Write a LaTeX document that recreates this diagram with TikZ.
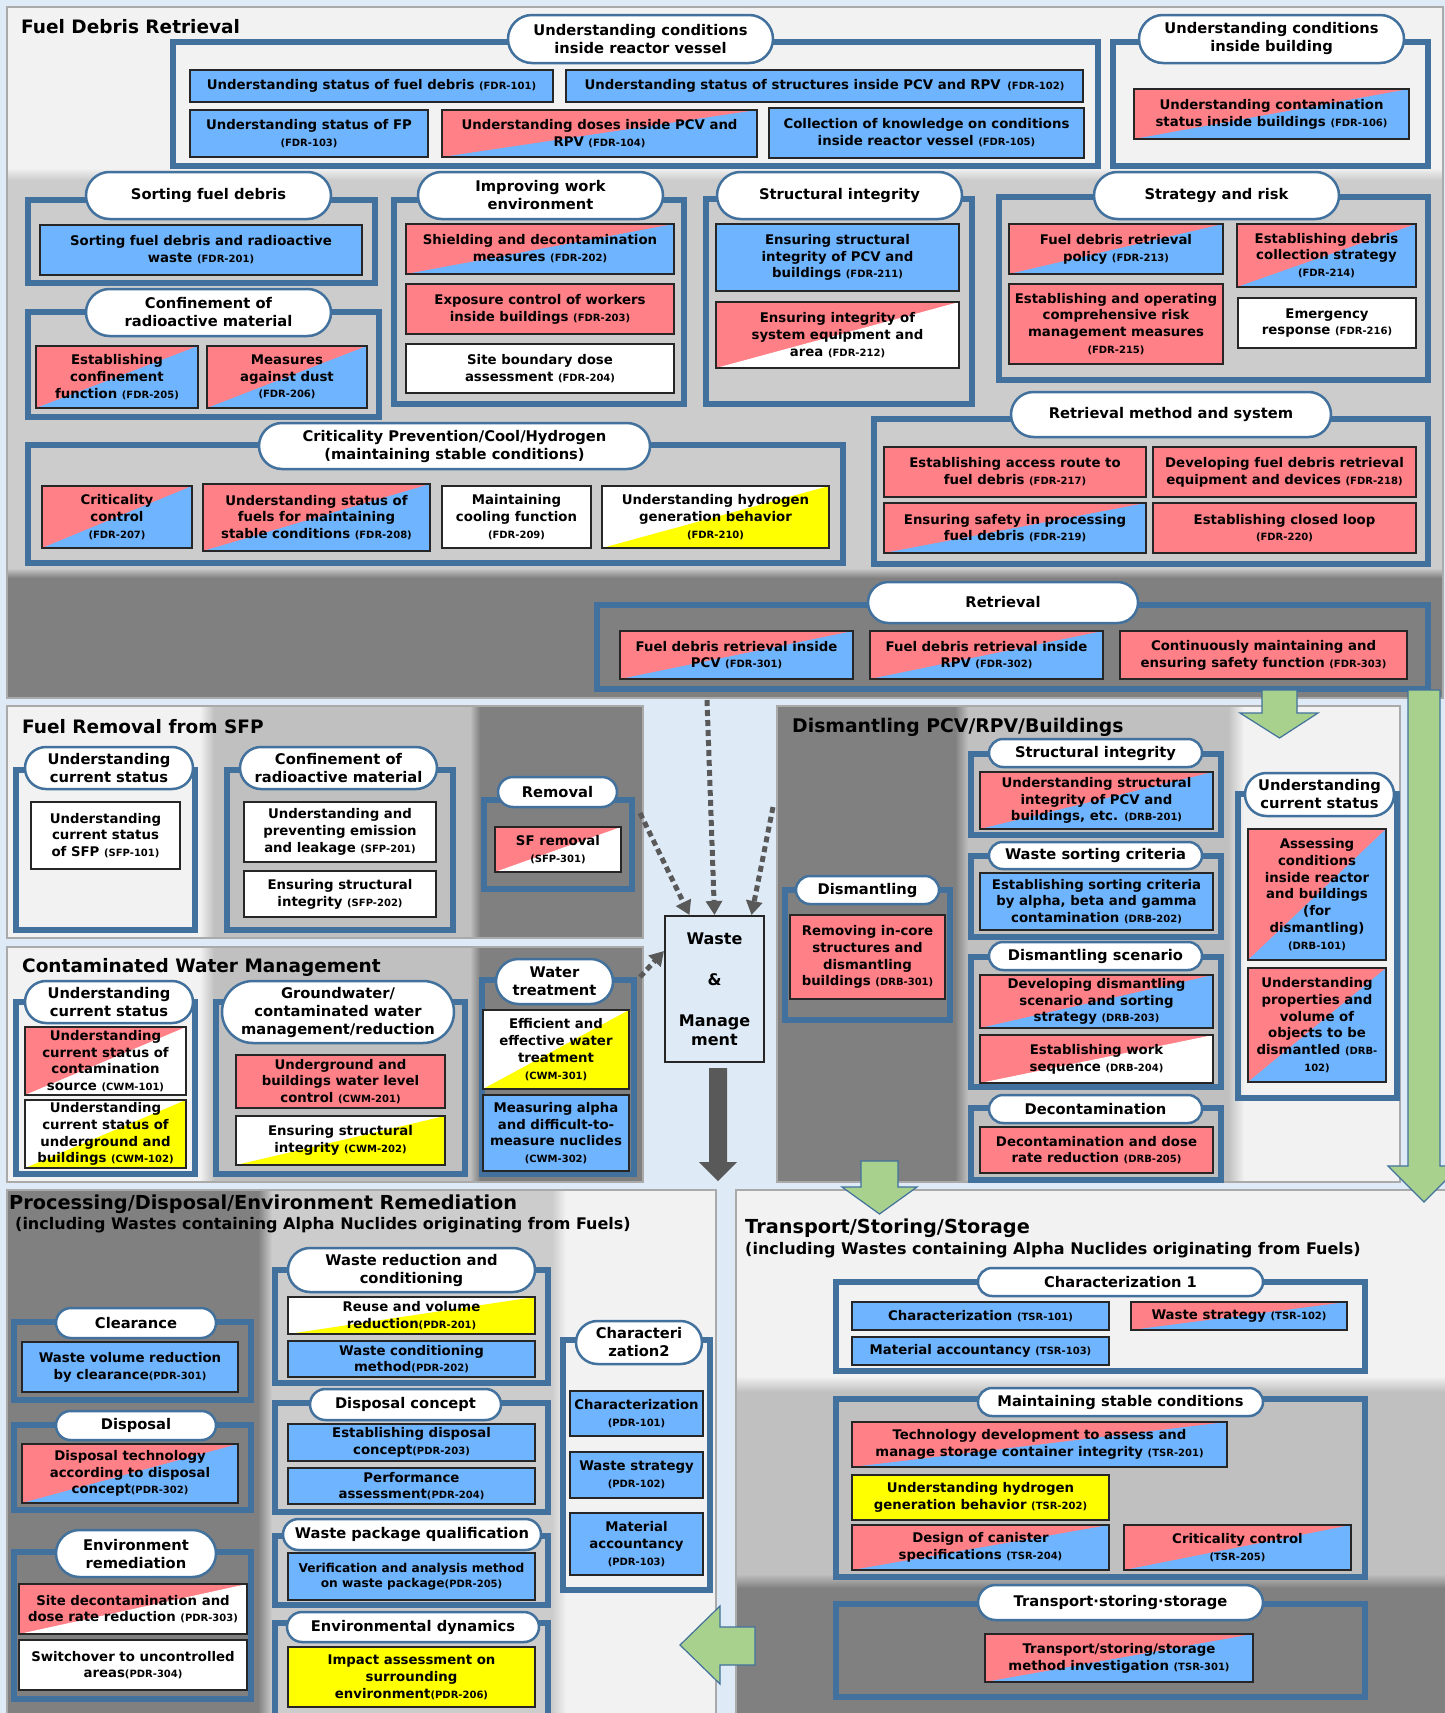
\documentclass[tikz,border=0pt]{standalone}
\usepackage{fontspec}
\setmainfont{DejaVu Sans}
\usetikzlibrary{arrows.meta,calc}
\definecolor{bgblue}{RGB}{222,235,247}
\definecolor{grpblue}{RGB}{65,113,156}
\definecolor{pinkc}{RGB}{255,128,134}
\definecolor{bluec}{RGB}{111,180,255}
\definecolor{yel}{RGB}{255,255,0}
\definecolor{lband}{RGB}{242,242,242}
\definecolor{mband}{RGB}{204,204,204}
\definecolor{mbandb}{RGB}{192,192,192}
\definecolor{dband}{RGB}{128,128,128}
\definecolor{pborder}{RGB}{170,170,170}
\definecolor{greenar}{RGB}{169,209,142}
\definecolor{darkar}{RGB}{89,89,89}
\newcommand\codeT[1]{{\fontsize{10}{11}\selectfont(#1)}}
\newcommand\codeR[1]{{\fontsize{10}{11}\selectfont#1}}
\tikzset{
 bxx/.style={draw=black!85,line width=1.1pt,inner sep=0pt,align=center,font=\fontsize{13.3}{16.8}\selectfont\bfseries},
 bl/.style={fill=bluec}, pk/.style={fill=pinkc}, wh/.style={fill=white}, ye/.style={fill=yel},
 pb/.style={fill=pinkc,path picture={\fill[bluec] (path picture bounding box.south west) -- (path picture bounding box.north east) -- (path picture bounding box.south east) -- cycle;}},
 pw/.style={fill=pinkc,path picture={\fill[white] (path picture bounding box.south west) -- (path picture bounding box.north east) -- (path picture bounding box.south east) -- cycle;}},
 wy/.style={fill=white,path picture={\fill[yel] (path picture bounding box.south west) -- (path picture bounding box.north east) -- (path picture bounding box.south east) -- cycle;}},
 pill/.style={draw=grpblue,line width=2.5pt,fill=white,inner sep=0pt,align=center,font=\fontsize{14.7}{18}\selectfont\bfseries},
 grp/.style={draw=grpblue,line width=5.5pt,inner sep=0pt},
 ttl/.style={inner sep=0pt,font=\fontsize{18.5}{22}\selectfont\bfseries},
 ttlb/.style={inner sep=0pt,font=\fontsize{19.3}{22}\selectfont\bfseries},
 sttl/.style={inner sep=0pt,font=\fontsize{16}{18}\selectfont\bfseries},
 panelb/.style={draw=pborder,line width=1.5pt},
 dotar/.style={draw=darkar,line width=5pt,dash pattern=on 6pt off 4pt,-{Triangle[length=14pt,width=16pt]}},
 grar/.style={fill=greenar,draw=grpblue,line width=1.2pt}
}
\newcommand\BoxN[7]{%
 \pgfmathsetmacro\qqcx{(#3+#5)/2}\pgfmathsetmacro\qqcy{(#4+#6)/2}%
 \pgfmathsetmacro\qqw{#5-#3}\pgfmathsetmacro\qqh{#6-#4}%
 \node[bxx,#2,minimum width=\qqw pt,minimum height=\qqh pt] (#1) at (\qqcx,\qqcy) {#7};}
\newcommand\PillN[6]{%
 \pgfmathsetmacro\qqcx{(#2+#4)/2}\pgfmathsetmacro\qqcy{(#3+#5)/2}%
 \pgfmathsetmacro\qqw{#4-#2}\pgfmathsetmacro\qqh{#5-#3}\pgfmathsetmacro\qqr{(#5-#3)/2}%
 \node[pill,minimum width=\qqw pt,minimum height=\qqh pt,rounded corners=\qqr pt] (#1) at (\qqcx,\qqcy) {#6};}
\newcommand\GrpN[5]{%
 \pgfmathsetmacro\qqcx{(#2+#4)/2}\pgfmathsetmacro\qqcy{(#3+#5)/2}%
 \pgfmathsetmacro\qqw{#4-#2}\pgfmathsetmacro\qqh{#5-#3}%
 \node[grp,minimum width=\qqw pt,minimum height=\qqh pt] (#1) at (\qqcx,\qqcy) {};}
\begin{document}
\begin{tikzpicture}[x=1pt,y=-1pt]
\useasboundingbox (0,0) rectangle (1445,1713);
\fill[bgblue] (0,0) rectangle (1445,1713);
% ---------- panels ----------
% FDR
\fill[lband] (7,7) rectangle (1443,168);
\shade[top color=lband,bottom color=mband] (7,168) rectangle (1443,180);
\fill[mband] (7,180) rectangle (1443,568);
\shade[top color=mband,bottom color=dband] (7,568) rectangle (1443,578);
\fill[dband] (7,578) rectangle (1443,698);
\draw[panelb] (7,7) rectangle (1443,698);
% SFP
\fill[lband] (7,706) rectangle (200,938);
\shade[left color=lband,right color=mbandb] (200,706) rectangle (214,938);
\fill[mbandb] (214,706) rectangle (470,938);
\shade[left color=mbandb,right color=dband] (470,706) rectangle (480,938);
\fill[dband] (480,706) rectangle (643,938);
\draw[panelb] (7,706) rectangle (643,938);
% CWM
\fill[lband] (7,947) rectangle (200,1182);
\shade[left color=lband,right color=mbandb] (200,947) rectangle (214,1182);
\fill[mbandb] (214,947) rectangle (470,1182);
\shade[left color=mbandb,right color=dband] (470,947) rectangle (480,1182);
\fill[dband] (480,947) rectangle (643,1182);
\draw[panelb] (7,947) rectangle (643,1182);
% DRB
\fill[dband] (777,706) rectangle (955,1182);
\shade[left color=dband,right color=mbandb] (955,706) rectangle (968,1182);
\fill[mbandb] (968,706) rectangle (1228,1182);
\shade[left color=mbandb,right color=lband] (1228,706) rectangle (1244,1182);
\fill[lband] (1244,706) rectangle (1400,1182);
\draw[panelb] (777,706) rectangle (1400,1182);
% PDR
\fill[dband] (7,1190) rectangle (258,1725);
\shade[left color=dband,right color=mband] (258,1190) rectangle (272,1725);
\fill[mband] (272,1190) rectangle (552,1725);
\shade[left color=mband,right color=lband] (552,1190) rectangle (566,1725);
\fill[lband] (566,1190) rectangle (716,1725);
\draw[panelb] (7,1190) rectangle (716,1725);
% TSR
\fill[lband] (736,1190) rectangle (1455,1376);
\shade[top color=lband,bottom color=mbandb] (736,1376) rectangle (1455,1392);
\fill[mbandb] (736,1392) rectangle (1455,1574);
\shade[top color=mbandb,bottom color=dband] (736,1574) rectangle (1455,1588);
\fill[dband] (736,1588) rectangle (1455,1725);
\draw[panelb] (736,1190) rectangle (1455,1725);
% ---------- titles ----------
\node[ttl,anchor=west] (tfdr) at (21,27) {Fuel Debris Retrieval};
\node[ttl,anchor=west] (tsfp) at (22,727) {Fuel Removal from SFP};
\node[ttl,anchor=west] (tcwm) at (22,967) {Contaminated Water Management};
\node[ttl,anchor=west,font=\fontsize{18.8}{22}\selectfont\bfseries] (tdrb) at (792,727) {Dismantling PCV/RPV/Buildings};
\node[ttlb,anchor=west] (tpdr) at (9,1204) {Processing/Disposal/Environment Remediation};
\node[sttl,anchor=west] (tpdrs) at (15,1225) {(including Wastes containing Alpha Nuclides originating from Fuels)};
\node[ttlb,anchor=west] (ttsr) at (745,1228) {Transport/Storing/Storage};
\node[sttl,anchor=west] (ttsrs) at (745,1250) {(including Wastes containing Alpha Nuclides originating from Fuels)};
% ---------- FDR top ----------
\GrpN{g11}{173}{42}{1098}{166}
\GrpN{g12}{1113}{42}{1428}{166}
\PillN{p11}{508}{15}{773}{63}{Understanding conditions\\inside reactor vessel}
\PillN{p12}{1139}{15}{1404}{63}{Understanding conditions\\inside building}
\BoxN{fdr101}{bl}{190}{70}{553}{102}{Understanding status of fuel debris \codeT{FDR-101}}
\BoxN{fdr102}{bl}{566}{70}{1083}{102}{Understanding status of structures inside PCV and RPV\enspace\codeT{FDR-102}}
\BoxN{fdr103}{bl}{190}{110}{428}{157}{Understanding status of FP\\\codeT{FDR-103}}
\BoxN{fdr104}{pb}{442}{110}{757}{157}{Understanding doses inside PCV and\\RPV \codeT{FDR-104}}
\BoxN{fdr105}{bl}{769}{108}{1084}{158}{Collection of knowledge on conditions\\inside reactor vessel \codeT{FDR-105}}
\BoxN{fdr106}{pb}{1134}{89}{1409}{139}{Understanding contamination\\status inside buildings \codeT{FDR-106}}
% ---------- FDR middle ----------
\GrpN{g21}{28}{200}{375}{283}
\PillN{p21}{86}{172}{331}{219}{Sorting fuel debris}
\BoxN{fdr201}{bl}{40}{225}{362}{275}{Sorting fuel debris and radioactive\\waste \codeT{FDR-201}}
\GrpN{g22}{28}{312}{379}{417}
\PillN{p22}{86}{289}{331}{336}{Confinement of\\radioactive material}
\BoxN{fdr205}{pb}{36}{346}{198}{408}{Establishing\\confinement\\function \codeT{FDR-205}}
\BoxN{fdr206}{pb}{207}{346}{367}{408}{Measures\\against dust\\\codeT{FDR-206}}
\GrpN{g23}{394}{200}{684}{404}
\PillN{p23}{418}{172}{663}{219}{Improving work\\environment}
\BoxN{fdr202}{pb}{406}{224}{674}{274}{Shielding and decontamination\\measures \codeT{FDR-202}}
\BoxN{fdr203}{pk}{406}{284}{674}{334}{Exposure control of workers\\inside buildings \codeT{FDR-203}}
\BoxN{fdr204}{wh}{406}{344}{674}{393}{Site boundary dose\\assessment \codeT{FDR-204}}
\GrpN{g24}{706}{199}{972}{404}
\PillN{p24}{717}{172}{962}{219}{Structural integrity}
\BoxN{fdr211}{bl}{716}{224}{959}{291}{Ensuring structural\\integrity of PCV and\\buildings \codeT{FDR-211}}
\BoxN{fdr212}{pw}{716}{302}{959}{368}{Ensuring integrity of\\system equipment and\\area \codeT{FDR-212}}
\GrpN{g25}{999}{197}{1428}{380}
\PillN{p25}{1094}{172}{1339}{219}{Strategy and risk}
\BoxN{fdr213}{pb}{1009}{224}{1223}{274}{Fuel debris retrieval\\policy \codeT{FDR-213}}
\BoxN{fdr214}{pb}{1237}{224}{1416}{287}{Establishing debris\\collection strategy\\\codeT{FDR-214}}
\BoxN{fdr215}{pk}{1009}{284}{1223}{364}{Establishing and operating\\comprehensive risk\\management measures\\\codeT{FDR-215}}
\BoxN{fdr216}{wh}{1238}{298}{1416}{348}{Emergency\\response \codeT{FDR-216}}
\GrpN{g26}{28}{445}{843}{563}
\PillN{p26}{259}{423}{650}{469}{Criticality Prevention/Cool/Hydrogen\\(maintaining stable conditions)}
\BoxN{fdr207}{pb}{42}{486}{192}{548}{Criticality\\control\\\codeT{FDR-207}}
\BoxN{fdr208}{pb}{203}{484}{430}{551}{Understanding status of\\fuels for maintaining\\stable conditions \codeT{FDR-208}}
\BoxN{fdr209}{wh}{442}{486}{591}{548}{Maintaining\\cooling function\\\codeT{FDR-209}}
\BoxN{fdr210}{wy}{602}{486}{829}{548}{Understanding hydrogen\\generation behavior\\\codeT{FDR-210}}
\GrpN{g27}{874}{419}{1428}{564}
\PillN{p27}{1011}{392}{1331}{437}{Retrieval method and system}
\BoxN{fdr217}{pk}{884}{447}{1146}{497}{Establishing access route to\\fuel debris \codeT{FDR-217}}
\BoxN{fdr218}{pk}{1153}{447}{1416}{497}{Developing fuel debris retrieval\\equipment and devices \codeT{FDR-218}}
\BoxN{fdr219}{pb}{884}{503}{1146}{553}{Ensuring safety in processing\\fuel debris \codeT{FDR-219}}
\BoxN{fdr220}{pk}{1153}{503}{1416}{553}{Establishing closed loop\\\codeT{FDR-220}}
% ---------- FDR bottom ----------
\GrpN{g31}{597}{605}{1428}{689}
\PillN{p31}{868}{582}{1138}{623}{Retrieval}
\BoxN{fdr301}{pb}{620}{631}{853}{679}{Fuel debris retrieval inside\\PCV \codeT{FDR-301}}
\BoxN{fdr302}{pb}{870}{631}{1103}{679}{Fuel debris retrieval inside\\RPV \codeT{FDR-302}}
\BoxN{fdr303}{pk}{1120}{631}{1407}{679}{Continuously maintaining and\\ensuring safety function \codeT{FDR-303}}
% ---------- SFP ----------
\GrpN{gs1}{16}{770}{195}{930}
\PillN{ps1}{25}{747}{193}{789}{Understanding\\current status}
\BoxN{sfp101}{wh}{31}{802}{180}{869}{Understanding\\current status\\of SFP \codeT{SFP-101}}
\GrpN{gs2}{227}{770}{453}{930}
\PillN{ps2}{240}{747}{437}{789}{Confinement of\\radioactive material}
\BoxN{sfp201}{wh}{244}{802}{436}{862}{Understanding and\\preventing emission\\and leakage \codeT{SFP-201}}
\BoxN{sfp202}{wh}{244}{871}{436}{917}{Ensuring structural\\integrity \codeT{SFP-202}}
\GrpN{gs3}{484}{800}{632}{889}
\PillN{ps3}{498}{777}{617}{807}{Removal}
\BoxN{sfp301}{pw}{495}{827}{621}{872}{SF removal\\\codeT{SFP-301}}
% ---------- CWM ----------
\GrpN{gc1}{16}{1002}{195}{1174}
\PillN{pc1}{25}{981}{193}{1023}{Understanding\\current status}
\BoxN{cwm101}{pw}{25}{1027}{186}{1095}{Understanding\\current status of\\contamination\\source \codeT{CWM-101}}
\BoxN{cwm102}{wy}{25}{1100}{186}{1168}{Understanding\\current status of\\underground and\\buildings \codeT{CWM-102}}
\GrpN{gc2}{216}{1002}{465}{1174}
\PillN{pc2}{222}{981}{454}{1043}{Groundwater/\\contaminated water\\management/reduction}
\BoxN{cwm201}{pk}{236}{1055}{445}{1108}{Underground and\\buildings water level\\control \codeT{CWM-201}}
\BoxN{cwm202}{wy}{236}{1116}{445}{1165}{Ensuring structural\\integrity \codeT{CWM-202}}
\GrpN{gc3}{482}{980}{634}{1174}
\PillN{pc3}{496}{959}{613}{1004}{Water\\treatment}
\BoxN{cwm301}{wy}{483}{1010}{629}{1089}{Efficient and\\effective water\\treatment\\\codeT{CWM-301}}
\BoxN{cwm302}{bl}{483}{1095}{629}{1171}{Measuring alpha\\and difficult-to-\\measure nuclides\\\codeT{CWM-302}}
% ---------- Waste & Management ----------
\BoxN{waste}{fill=bgblue,line width=2pt,font=\fontsize{16}{19}\selectfont\bfseries}{665}{916}{764}{1062}{Waste\\[22pt]\&\\[22pt]Manage\\ment}
% ---------- DRB ----------
\GrpN{gd1}{785}{890}{950}{1020}
\PillN{pd1}{796}{876}{939}{904}{Dismantling}
\BoxN{drb301}{pk}{790}{915}{945}{999}{Removing in-core\\structures and\\dismantling\\buildings \codeT{DRB-301}}
\GrpN{gd2}{971}{754}{1221}{835}
\PillN{pd2}{989}{739}{1202}{767}{Structural integrity}
\BoxN{drb201}{pb}{980}{772}{1213}{829}{Understanding structural\\integrity of PCV and\\buildings, etc. \codeT{DRB-201}}
\GrpN{gd3}{971}{856}{1221}{937}
\PillN{pd3}{989}{842}{1202}{869}{Waste sorting criteria}
\BoxN{drb202}{bl}{980}{873}{1213}{930}{Establishing sorting criteria\\by alpha, beta and gamma\\contamination \codeT{DRB-202}}
\GrpN{gd4}{971}{957}{1221}{1087}
\PillN{pd4}{989}{942}{1202}{970}{Dismantling scenario}
\BoxN{drb203}{pb}{980}{975}{1213}{1028}{Developing dismantling\\scenario and sorting\\strategy \codeT{DRB-203}}
\BoxN{drb204}{pw}{980}{1035}{1213}{1083}{Establishing work\\sequence \codeT{DRB-204}}
\GrpN{gd5}{971}{1108}{1221}{1180}
\PillN{pd5}{989}{1095}{1202}{1123}{Decontamination}
\BoxN{drb205}{pk}{980}{1127}{1213}{1173}{Decontamination and dose\\rate reduction \codeT{DRB-205}}
\GrpN{gd6}{1238}{794}{1397}{1098}
\PillN{pd6}{1245}{773}{1394}{816}{Understanding\\current status}
\BoxN{drb101}{pb}{1248}{829}{1386}{960}{Assessing\\conditions\\inside reactor\\and buildings\\(for\\dismantling)\\\codeT{DRB-101}}
\BoxN{drb102}{pb}{1248}{968}{1386}{1082}{Understanding\\properties and\\volume of\\objects to be\\dismantled \codeR{(DRB-}\\\codeR{102)}}
% ---------- PDR ----------
\GrpN{gp1}{14}{1322}{251}{1400}
\PillN{pp1}{56}{1308}{216}{1338}{Clearance}
\BoxN{pdr301}{bl}{22}{1342}{238}{1392}{Waste volume reduction\\by clearance\codeT{PDR-301}}
\GrpN{gp2}{14}{1425}{251}{1510}
\PillN{pp2}{56}{1411}{216}{1440}{Disposal}
\BoxN{pdr302}{pb}{22}{1444}{238}{1503}{Disposal technology\\according to disposal\\concept\codeT{PDR-302}}
\GrpN{gp3}{14}{1552}{251}{1699}
\PillN{pp3}{56}{1530}{216}{1577}{Environment\\remediation}
\BoxN{pdr303}{pw}{19}{1584}{247}{1634}{Site decontamination and\\dose rate reduction \codeT{PDR-303}}
\BoxN{pdr304}{wh}{19}{1640}{247}{1690}{Switchover to uncontrolled\\areas\codeT{PDR-304}}
\GrpN{gp4}{275}{1270}{548}{1383}
\PillN{pp4}{288}{1248}{535}{1292}{Waste reduction and\\conditioning}
\BoxN{pdr201}{wy}{288}{1297}{535}{1334}{Reuse and volume\\reduction\codeT{PDR-201}}
\BoxN{pdr202}{bl}{288}{1341}{535}{1377}{Waste conditioning\\method\codeT{PDR-202}}
\GrpN{gp5}{275}{1403}{548}{1512}
\PillN{pp5}{310}{1389}{501}{1420}{Disposal concept}
\BoxN{pdr203}{bl}{288}{1424}{535}{1461}{Establishing disposal\\concept\codeT{PDR-203}}
\BoxN{pdr204}{bl}{288}{1468}{535}{1504}{Performance\\assessment\codeT{PDR-204}}
\GrpN{gp6}{275}{1536}{548}{1605}
\PillN{pp6}{283}{1519}{541}{1550}{Waste package qualification}
\BoxN{pdr205}{bl,font=\fontsize{12.2}{15}\selectfont\bfseries}{288}{1553}{535}{1600}{Verification and analysis method\\on waste package\codeT{PDR-205}}
\GrpN{gp7}{275}{1623}{548}{1730}
\PillN{pp7}{287}{1612}{539}{1642}{Environmental dynamics}
\BoxN{pdr206}{ye}{288}{1647}{535}{1707}{Impact assessment on\\surrounding\\environment\codeT{PDR-206}}
\GrpN{gp8}{563}{1340}{710}{1590}
\PillN{pp8}{576}{1321}{702}{1364}{Characteri\\zation2}
\BoxN{pdr101}{bl}{570}{1391}{703}{1436}{Characterization\\\codeT{PDR-101}}
\BoxN{pdr102}{bl}{570}{1452}{703}{1498}{Waste strategy\\\codeT{PDR-102}}
\BoxN{pdr103}{bl}{570}{1513}{703}{1575}{Material\\accountancy\\\codeT{PDR-103}}
% ---------- TSR ----------
\GrpN{gt1}{836}{1282}{1365}{1371}
\PillN{pt1}{978}{1268}{1263}{1296}{Characterization 1}
\BoxN{tsr101}{bl}{852}{1302}{1109}{1330}{Characterization \codeT{TSR-101}}
\BoxN{tsr102}{pb}{1131}{1302}{1347}{1330}{Waste strategy \codeT{TSR-102}}
\BoxN{tsr103}{bl}{852}{1337}{1109}{1365}{Material accountancy \codeT{TSR-103}}
\GrpN{gt2}{836}{1399}{1365}{1577}
\PillN{pt2}{978}{1388}{1263}{1416}{Maintaining stable conditions}
\BoxN{tsr201}{pb}{852}{1422}{1227}{1467}{Technology development to assess and\\manage storage container integrity \codeT{TSR-201}}
\BoxN{tsr202}{ye}{852}{1475}{1109}{1520}{Understanding hydrogen\\generation behavior \codeT{TSR-202}}
\BoxN{tsr204}{pb}{852}{1525}{1109}{1570}{Design of canister\\specifications \codeT{TSR-204}}
\BoxN{tsr205}{pb}{1124}{1525}{1351}{1570}{Criticality control\\\codeT{TSR-205}}
\GrpN{gt3}{836}{1604}{1365}{1697}
\PillN{pt3}{978}{1585}{1263}{1620}{Transport·storing·storage}
\BoxN{tsr301}{pb}{985}{1634}{1253}{1682}{Transport/storing/storage\\method investigation \codeT{TSR-301}}
% ---------- arrows ----------
\coordinate (d1s) at (707,700);
\coordinate (d2s) at (640,813);
\coordinate (d3s) at (773,807);
\coordinate (d4s) at (640,977);
\draw[dotar] (d1s) -- (waste.north);
\draw[dotar] (d2s) -- ([xshift=-25pt]waste.north);
\draw[dotar] (d3s) -- ([xshift=37pt]waste.north);
\draw[dotar] (d4s) -- ([yshift=-36pt]waste.north west);
\fill[darkar] (709,1068) -- (727,1068) -- (727,1162) -- (737,1162) -- (718,1181) -- (699,1162) -- (709,1162) -- cycle;
\filldraw[grar] (1262,690) -- (1297,690) -- (1297,713) -- (1318,713) -- (1279.5,738) -- (1240,713) -- (1262,713) -- cycle;
\filldraw[grar] (1408,690) -- (1440,690) -- (1440,1166) -- (1460,1166) -- (1424,1202) -- (1388,1166) -- (1408,1166) -- cycle;
\filldraw[grar] (861,1161) -- (898,1161) -- (898,1187) -- (917,1187) -- (879.5,1214) -- (842,1187) -- (861,1187) -- cycle;
\filldraw[grar] (755,1627) -- (755,1665) -- (720,1665) -- (720,1684) -- (680,1645) -- (720,1606) -- (720,1627) -- cycle;
\end{tikzpicture}
\end{document}
